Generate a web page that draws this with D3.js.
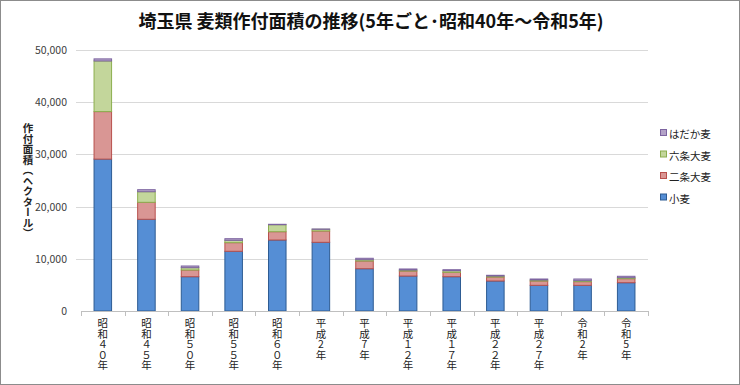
<!DOCTYPE html>
<html><head><meta charset="utf-8">
<script src="https://cdn.jsdelivr.net/npm/d3@7"></script>
<style>
body{margin:0;background:#fff;}
text{font-family:"Noto Sans CJK JP","Noto Sans",sans-serif;}
</style></head>
<body>
<svg id="c" width="740" height="385"></svg>
<script>
const categories = ["昭和４０年","昭和４５年","昭和５０年","昭和５５年","昭和６０年","平成2年","平成7年","平成１２年","平成１７年","平成２２年","平成２７年","令和2年","令和5年"];
const seriesNames = ["小麦","二条大麦","六条大麦","はだか麦"];
const wheat   = [29100,17570,6570,11440,13600,13160,8100,6700,6570,5750,4920,4920,5420];
const twoRow  = [9100,3250,1280,1650,1590,2170,1480,960,840,760,830,700,770];
const sixRow  = [9700,2030,450,450,1340,320,250,190,310,190,190,190,190];
const naked   = [400,390,320,310,80,60,270,200,190,140,190,320,270];
const yTicks  = [0,10000,20000,30000,40000,50000];
const fills   = ["#558ED5","#D99694","#C3D69B","#B3A2C7"];
const strokes = ["#2E5C93","#B8504D","#8CAE4E","#7D64A0"];

const svg = d3.select("#c");
svg.append("rect").attr("x",0.5).attr("y",0.5).attr("width",739).attr("height",384)
  .attr("fill","#fff").attr("stroke","#8c8c8c");

const x = d3.scaleBand().domain(categories).range([81,648]).paddingInner(0.575).paddingOuter(0.2875);
const y = d3.scaleLinear().domain([0,50000]).range([311,50]);

// gridlines
svg.append("g").selectAll("line").data(yTicks.slice(1)).join("line")
  .attr("x1",76).attr("x2",648).attr("y1",d=>Math.round(y(d))+0.5).attr("y2",d=>Math.round(y(d))+0.5)
  .attr("stroke","#D9D9D9");

// y labels
svg.append("g").selectAll("text").data(yTicks).join("text")
  .attr("x",67).attr("y",d=>y(d)+4).attr("text-anchor","end")
  .attr("font-size",10.5).attr("fill","#404040")
  .attr("font-family","'Liberation Sans',Arial,sans-serif")
  .text(d=>d3.format(",")(d));

// stacked data
const rows = categories.map((c,i)=>({cat:c,"小麦":wheat[i],"二条大麦":twoRow[i],"六条大麦":sixRow[i],"はだか麦":naked[i]}));
const stack = d3.stack().keys(seriesNames)(rows);
svg.append("g").selectAll("g").data(stack).join("g")
  .attr("fill",(d,i)=>fills[i]).attr("stroke",(d,i)=>strokes[i]).attr("stroke-width",1)
  .selectAll("rect").data(d=>d).join("rect")
  .attr("x",d=>x(d.data.cat)+0.5).attr("width",x.bandwidth()-1)
  .attr("y",d=>y(d[1])).attr("height",d=>Math.max(0,y(d[0])-y(d[1])));

// x axis
svg.append("line").attr("x1",81).attr("x2",648).attr("y1",311.5).attr("y2",311.5).attr("stroke","#BFBFBF");
const bounds = categories.map((c,i)=>x(c)-x.step()*x.paddingInner()/2);
bounds.push(648);
svg.append("g").selectAll("line").data(bounds).join("line")
  .attr("x1",d=>Math.round(d)+0.5).attr("x2",d=>Math.round(d)+0.5).attr("y1",311).attr("y2",316)
  .attr("stroke","#BFBFBF");

svg.append("g").selectAll("text").data(categories).join("text")
  .attr("x",d=>x(d)+x.bandwidth()/2).attr("y",318)
  .attr("font-size",10.5).attr("fill","#222")
  .style("writing-mode","vertical-rl").style("text-orientation","upright")
  .text(d=>d);

// y title (vertical)
svg.append("text").attr("x",28).attr("y",123)
  .attr("font-size",10.5).attr("font-weight","bold").attr("fill","#222")
  .style("writing-mode","vertical-rl")
  .text("作付面積（ヘクタール）");

// title
svg.append("text").attr("x",371).attr("y",28).attr("text-anchor","middle")
  .attr("font-size",18).attr("font-weight","bold").attr("fill","#111")
  .text("埼玉県 麦類作付面積の推移(5年ごと･昭和40年～令和5年)");

// legend
const legendOrder = [3,2,1,0];
const lg = svg.append("g").selectAll("g").data(legendOrder).join("g")
  .attr("transform",(d,i)=>`translate(660,${135+i*21.5})`);
lg.append("rect").attr("x",0.5).attr("y",-5.5).attr("width",6).attr("height",6)
  .attr("fill",d=>fills[d]).attr("stroke",d=>strokes[d]);
lg.append("text").attr("x",9).attr("y",3).attr("font-size",10.5).attr("fill","#222")
  .text(d=>seriesNames[d]);
</script>
</body></html>
